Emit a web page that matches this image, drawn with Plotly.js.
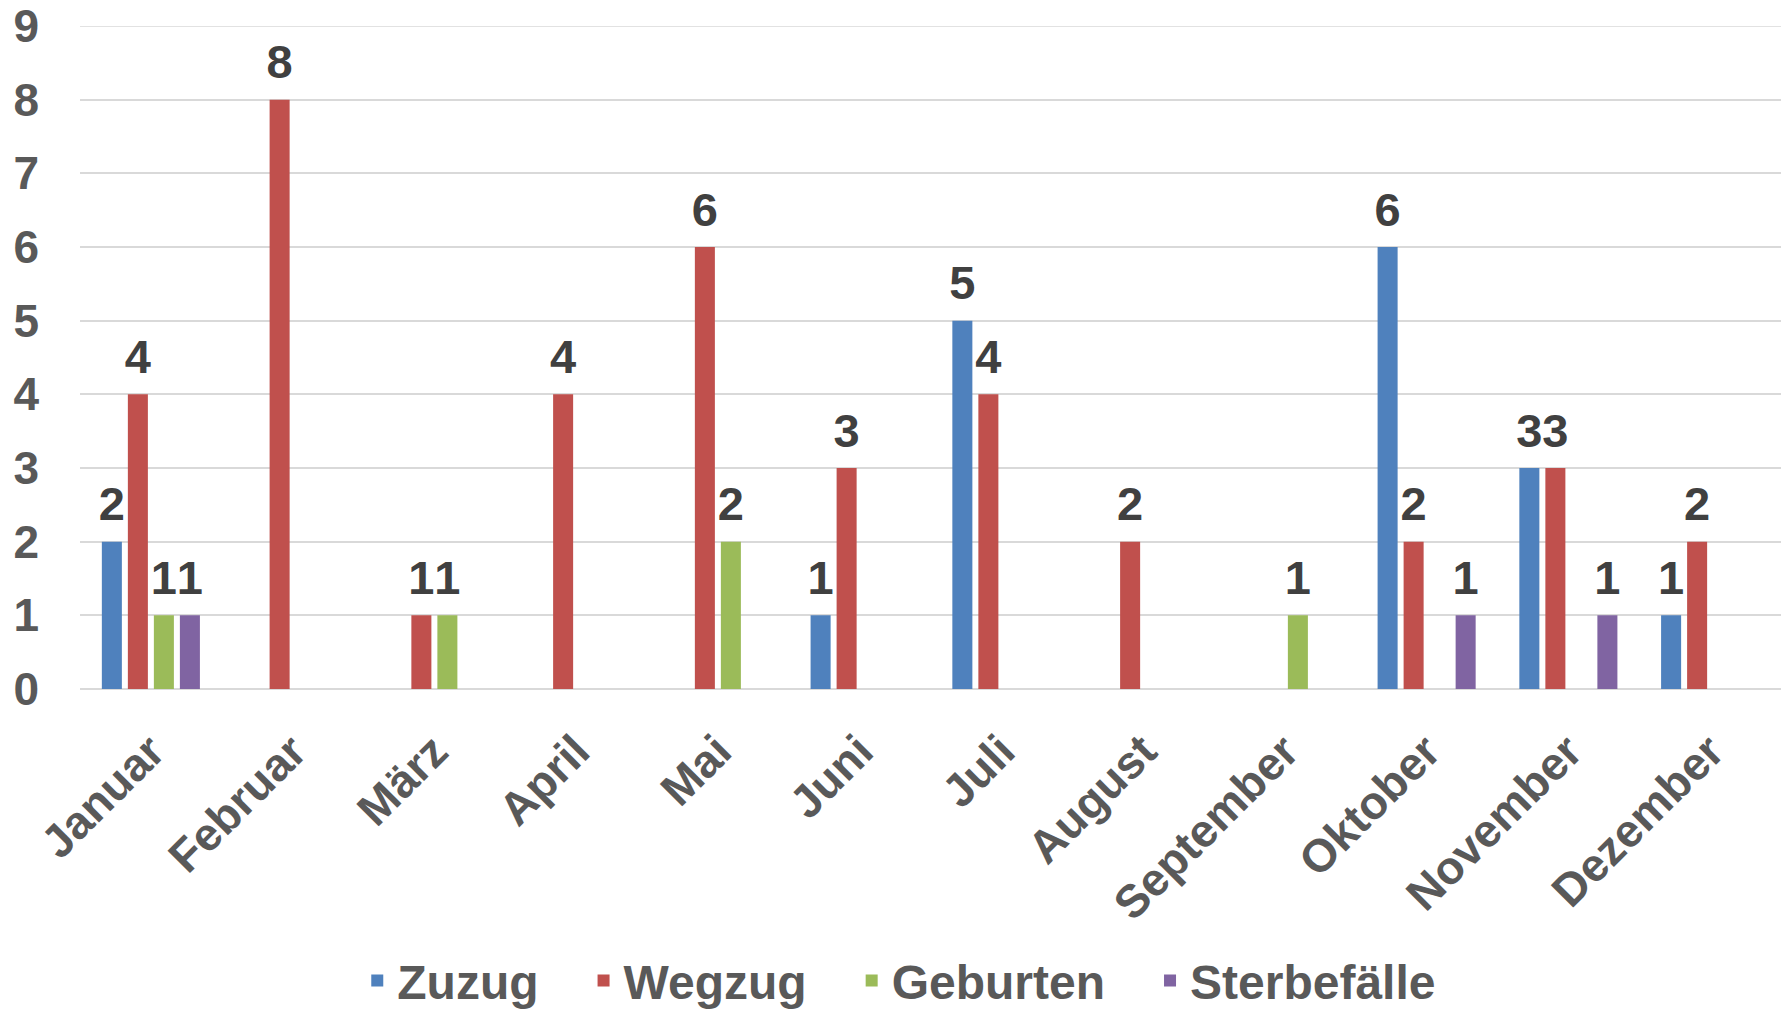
<!DOCTYPE html>
<html>
<head>
<meta charset="utf-8">
<script src="https://cdn.plot.ly/plotly-3.0.1.min.js"></script>
<style>
  html, body { margin: 0; padding: 0; background: #ffffff; }
  #chart { width: 1785px; height: 1009px; }
</style>
</head>
<body>
<div id="chart"></div>
<script>
const months = ["Januar", "Februar", "März", "April", "Mai", "Juni", "Juli", "August", "September", "Oktober", "November", "Dezember"];
const zuzug        = [2, 0, 0, 0, 0, 1, 5, 0, 0, 6, 3, 1];
const wegzug       = [4, 8, 1, 4, 6, 3, 4, 2, 0, 2, 3, 2];
const geburten     = [1, 0, 1, 0, 2, 0, 0, 0, 1, 0, 0, 0];
const sterbefaelle = [1, 0, 0, 0, 0, 0, 0, 0, 0, 1, 1, 0];

const seriesNames = ["Zuzug", "Wegzug", "Geburten", "Sterbefälle"];
const seriesValues = [zuzug, wegzug, geburten, sterbefaelle];
const seriesColors = ["#4F81BD", "#C0504D", "#9BBB59", "#8064A2"];

const FONT = "Liberation Sans, Arial, Helvetica, sans-serif";
const NBSP = "\u00A0";
const GAP = 0.266;

const barTraces = seriesNames.map((name, i) => ({
  type: "bar",
  name: i < seriesNames.length - 1 ? name + NBSP.repeat(3) : name,
  x: months,
  y: seriesValues[i],
  offsetgroup: "g" + i,
  marker: { color: seriesColors[i] },
  hovertemplate: name + ": %{y}<extra>%{x}</extra>"
}));

// value labels, placed above each bar in the same group slot
const labelTraces = seriesNames.map((name, i) => ({
  type: "scatter",
  mode: "markers+text",
  showlegend: false,
  hoverinfo: "skip",
  x: months,
  y: seriesValues[i],
  offsetgroup: "g" + i,
  text: seriesValues[i].map(v => v === 0 ? "" : String(v)),
  textposition: "top center",
  textfont: { family: FONT, size: 47, color: "#404040", weight: "bold" },
  marker: { size: 14, color: "rgba(0,0,0,0)" },
  cliponaxis: false
}));

const layout = {
  width: 1785,
  height: 1009,
  margin: { l: 80, r: 4, t: 26, b: 320, pad: 0, autoexpand: false },
  paper_bgcolor: "#ffffff",
  plot_bgcolor: "#ffffff",
  barmode: "group",
  bargap: GAP,
  bargroupgap: 0.23,
  scattermode: "group",
  scattergap: GAP,
  showlegend: true,
  legend: {
    orientation: "h",
    x: 0.163,
    xanchor: "left",
    y: -0.44,
    yanchor: "middle",
    font: { family: FONT, size: 48, color: "#595959", weight: "bold" },
    itemwidth: 30,
    traceorder: "normal"
  },
  xaxis: {
    type: "category",
    tickangle: -45,
    tickfont: { family: FONT, size: 46, color: "#595959", weight: "bold" },
    showgrid: false,
    showline: false,
    ticks: "",
    ticklabelstandoff: 25,
    automargin: false
  },
  yaxis: {
    range: [0, 9],
    dtick: 1,
    tick0: 0,
    showgrid: true,
    gridcolor: "#D9D9D9",
    gridwidth: 1.5,
    zeroline: true,
    zerolinecolor: "#D9D9D9",
    zerolinewidth: 1.5,
    showline: false,
    ticks: "",
    tickfont: { family: FONT, size: 46, color: "#595959", weight: "bold" },
    ticklabelstandoff: 40,
    automargin: false
  },
  shapes: [{
    type: "line", xref: "paper", yref: "y",
    x0: 0, x1: 1, y0: 9, y1: 9,
    line: { color: "#D9D9D9", width: 1.5 },
    layer: "below"
  }]
};

Plotly.newPlot("chart", barTraces.concat(labelTraces), layout, { displayModeBar: false, responsive: false });
</script>
</body>
</html>
